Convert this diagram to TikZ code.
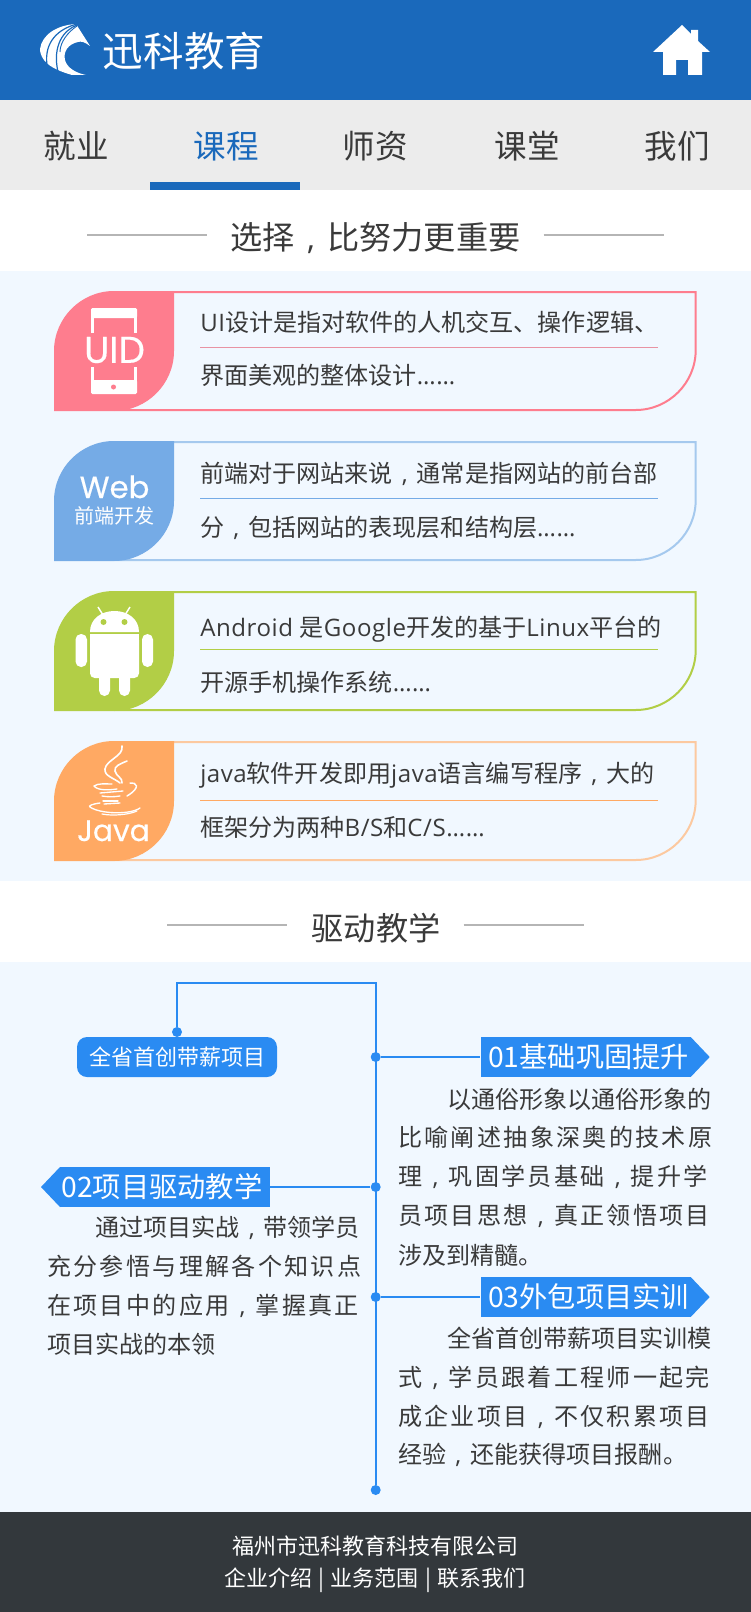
\documentclass[tikz,border=0pt]{standalone}
\usepackage{fontspec}
\setmainfont{Noto Sans CJK SC}
\newfontfamily\latfont[LetterSpace=2.3]{Open Sans}
\newfontfamily\popfont{Poppins}
\newfontfamily\popfake[FakeBold=0.4]{Poppins}
\newcommand\lat[1]{{\latfont #1}}
\newcommand\cm{\makebox[1em]{\latfont,}}
\newcommand\cms{\makebox[1.095em]{\latfont,}}
\newcommand\spc{\addfontfeature{LetterSpace=9.5}}
\definecolor{headblue}{HTML}{1A69BB}
\definecolor{navgrey}{HTML}{ECECEC}
\definecolor{panel}{HTML}{F1F8FF}
\definecolor{foot}{HTML}{33383C}
\definecolor{ink}{HTML}{3A3A3A}
\definecolor{rule}{HTML}{B5B5B5}
\definecolor{accent}{HTML}{2A8BF2}
\definecolor{pinkA}{HTML}{FE7D8E}\definecolor{pinkB}{HTML}{FE7D8E}\definecolor{pinkC}{HTML}{E893A3}
\definecolor{blueA}{HTML}{75ABE6}\definecolor{blueB}{HTML}{A5C9EE}\definecolor{blueC}{HTML}{75ABE6}
\definecolor{greenA}{HTML}{B2CE46}\definecolor{greenB}{HTML}{B2CE46}\definecolor{greenC}{HTML}{B2CE46}
\definecolor{orangeA}{HTML}{FFA963}\definecolor{orangeB}{HTML}{FCC9A0}\definecolor{orangeC}{HTML}{FFA963}
\tikzset{
  txt/.style={inner sep=0pt,anchor=base west,text=ink,font=\fontsize{18.05}{22}\selectfont},
  navtxt/.style={inner sep=0pt,anchor=base,text=ink,font=\fontsize{24.4}{28}\selectfont},
  titletxt/.style={inner sep=0pt,anchor=base,text=ink,font=\fontsize{24.15}{28}\selectfont},
  foottxt/.style={inner sep=0pt,anchor=base,text=white,font=\fontsize{16.5}{20}\selectfont},
  titlerule/.style={draw=rule,line width=1.5pt},
  dot/.style={circle,fill=accent,inner sep=0pt,minimum size=7.5pt},
  conn/.style={draw=accent,line width=1.5pt},
  tagbox/.style={fill=accent,inner sep=0pt,text=white,minimum width=157.5pt,minimum height=30pt,
     text height=18.5pt,text depth=2.5pt,font=\fontsize{21.2}{25}\selectfont},
  cardline/.style={line width=.75pt},
  cardedge/.style={line width=1.5pt},
}
\newcommand\card[4]{% top y, icon colour, border colour
  \draw[cardedge,#3] (174,#1+1) -- (695.7,#1+1) -- (695.7,#1+59) .. controls (695.7,#1+92) and (668.7,#1+119) .. (635.7,#1+119) -- (114,#1+119);
  \fill[#2] (54,#1+120) -- (54,#1+60) .. controls (54,#1+27) and (81,#1) .. (114,#1) -- (174,#1)
     -- (174,#1+60) .. controls (174,#1+93) and (147,#1+120) .. (114,#1+120) -- cycle;
}
\begin{document}
\begin{tikzpicture}[x=0.75pt,y=-0.75pt]
\useasboundingbox (0,0) rectangle (750.6,1612);
\fill[white] (0,0) rectangle (751,1612);
% header
\fill[headblue] (0,0) rectangle (751,100);
\fill[navgrey] (0,100) rectangle (751,190);
\fill[headblue] (150,182) rectangle (300,190);
\fill[panel] (0,271) rectangle (751,881);
\fill[panel] (0,962) rectangle (751,1512);
\fill[foot] (0,1512) rectangle (751,1612);
% logo
\fill[white] (76,24) -- (90,46) .. controls (85,42) and (81,41) .. (78,42)
  .. controls (68,44) and (63,52) .. (65,60) .. controls (67,68) and (76,73) .. (86,75)
  -- (72,75) .. controls (62,72) and (50,68) .. (44,60) .. controls (41,56) and (40,52) .. (40,49)
  .. controls (42,34) and (58,25) .. (76,24) -- cycle;
\draw[headblue,line width=.9pt] (77,24) .. controls (58,29) and (44,42) .. (47,65);
\draw[headblue,line width=.9pt] (77,25) .. controls (64,30) and (52,45) .. (58,72);
\draw[headblue,line width=.7pt] (77,26) .. controls (68,32) and (60,42) .. (60,52);
% home icon
\fill[white] (682,25) -- (691,34) -- (691,30) -- (698,30) -- (698,41) -- (710,52) -- (702,52) -- (702,75)
  -- (688,75) -- (688,60) -- (676,60) -- (676,75) -- (663,75) -- (663,52) -- (653,52) -- cycle;
\node[inner sep=0pt,anchor=base,text=white,font=\fontsize{30.4}{34}\selectfont] (brand) at (184,67) {迅科教育};
% nav
\node[navtxt] (n1) at (76.5,159) {就业};
\node[navtxt,text=headblue] (n2) at (226,159) {课程};
\node[navtxt] (n3) at (375,159) {师资};
\node[navtxt] (n4) at (527,159) {课堂};
\node[navtxt] (n5) at (677,159) {我们};
% title 1
\node[titletxt] (t1) at (375.5,249) {选择\cm 比努力更重要};
\draw[titlerule] (87,235) -- (207,235);
\draw[titlerule] (543.7,235) -- (663.7,235);
% cards
\card{291}{pinkA}{pinkB}{pinkC}
\card{441}{blueA}{blueB}{blueC}
\card{591}{greenA}{greenB}{greenC}
\card{741}{orangeA}{orangeB}{orangeC}
\draw[cardline,pinkC] (200,347.5) -- (657.7,347.5);
\draw[cardline,blueC] (200,498.5) -- (657.7,498.5);
\draw[cardline,greenC] (200,649.5) -- (657.7,649.5);
\draw[cardline,orangeC] (200,800.5) -- (657.7,800.5);
\node[txt] (c1a) at (200,331) {\lat{UI}设计是指对软件的人机交互、操作逻辑、};
\node[txt] (c1b) at (200,384) {界面美观的整体设计\lat{……}};
\node[txt] (c2a) at (200,482) {前端对于网站来说\cm 通常是指网站的前台部};
\node[txt] (c2b) at (200,536) {分\cm 包括网站的表现层和结构层\lat{……}};
\node[txt] (c3a) at (200,636) {\lat{Android }是\lat{Google}开发的基于\lat{Linux}平台的};
\node[txt] (c3b) at (200,691) {开源手机操作系统\lat{……}};
\node[txt] (c4a) at (200,782) {\lat{java}软件开发即用\lat{java}语言编写程序\cm 大的};
\node[txt] (c4b) at (200,836) {框架分为两种\lat{B/S}和\lat{C/S}\lat{……}};
% UID icon
\fill[white,rounded corners=1pt] (91,308) rectangle (137,318);
\fill[white] (91,314) rectangle (94,333);
\fill[white] (134,314) rectangle (137,333);
\fill[white] (91,367) rectangle (94,384);
\fill[white] (134,367) rectangle (137,384);
\fill[white,rounded corners=1pt] (91,380) rectangle (137,394);
\fill[pinkA] (113.5,387) circle[radius=2.5];
\node[inner sep=0pt,text=white,font=\popfake\fontsize{28}{30}\selectfont] (uid) at (114.5,350) {UID};
% Web icon
\node[inner sep=0pt,anchor=base,text=white,font=\popfake\fontsize{23}{26}\selectfont] (web) at (114.5,498) {Web};
\node[inner sep=0pt,anchor=base,text=white,font=\fontsize{15}{18}\selectfont] (webcn) at (114,523) {前端开发};
% Android icon
\draw[white,line width=1.1pt] (98,607) -- (103,615);
\draw[white,line width=1.1pt] (130,607) -- (125,615);
\fill[white] (90,632) .. controls (90,619) and (101,611) .. (114.5,611) .. controls (128,611) and (139,619) .. (139,632) -- cycle;
\fill[greenA] (103.5,622) circle[radius=3];
\fill[greenA] (124.5,622) circle[radius=3];
\fill[white,rounded corners=3.5pt] (90,640) -- (90,678) -- (139,678) -- (139,640);
\fill[white] (90,634) rectangle (139,650);
\fill[white,rounded corners=4.1pt] (75.5,634) rectangle (87,667);
\fill[white,rounded corners=4.1pt] (142,634) rectangle (153,667);
\fill[white,rounded corners=4.1pt] (99,665) rectangle (110,696);
\fill[white,rounded corners=4.1pt] (119,665) rectangle (130,696);
% Java icon
\draw[white,line width=1.2pt,line cap=round] (122,746) .. controls (124,756) and (106,760) .. (105,769) .. controls (104,776) and (114,778) .. (120,783);
\draw[white,line width=1.2pt,line cap=round] (127,761) .. controls (120,764) and (114,766) .. (115,771) .. controls (116,776) and (123,778) .. (122,783);
\draw[white,line width=1pt,line cap=round] (94,786) .. controls (98,783) and (106,784) .. (112,784);
\draw[white,line width=1pt,line cap=round] (94,786) .. controls (98,791) and (110,790) .. (117,789);
\draw[white,line width=1.1pt,line cap=round] (130,783) .. controls (136,782) and (142,787) .. (127,796);
\draw[white,line width=1pt,line cap=round] (100,793) -- (123,791);
\draw[white,line width=1pt,line cap=round] (102,796) .. controls (108,797) and (114,797) .. (120,796);
\draw[white,line width=1pt,line cap=round] (103,801) -- (118,801);
\draw[white,line width=1pt,line cap=round] (104,804) -- (120,803);
\draw[white,line width=1pt,line cap=round] (100,803) .. controls (92,804) and (88,806) .. (90,807) .. controls (100,814) and (130,815) .. (140,808);
\draw[white,line width=.9pt,line cap=round] (102,814) .. controls (112,816) and (128,815) .. (137,811);
\node[inner sep=0pt,anchor=base,text=white,font=\popfake\fontsize{22.3}{26}\selectfont] (java) at (113.5,841) {Java};
% title 2
\node[titletxt] (t2) at (376,940) {驱动教学};
\draw[titlerule] (167,925) -- (287,925);
\draw[titlerule] (463.7,925) -- (583.7,925);
% timeline
\node[dot] (dtop) at (177,1032) {};
\node[dot] (d1) at (375.7,1057) {};
\node[dot] (d2) at (375.7,1187) {};
\node[dot] (d3) at (375.7,1297) {};
\node[dot] (dend) at (375.7,1490) {};
\coordinate (ca) at (177,983);
\coordinate (cb) at (375.7,983);
\node[fill=accent,rounded corners=7.5pt,inner sep=0pt,text=white,minimum width=150pt,minimum height=30pt,
  text height=14.5pt,text depth=2pt,font=\fontsize{16.5}{20}\selectfont] (pill) at (177,1057) {全省首创带薪项目};
\draw[conn] (dtop) -- (ca) -- (cb) -- (dend);
\fill[accent] (690.7,1037) -- (709.7,1057) -- (690.7,1077) -- cycle;
\fill[accent] (60,1167) -- (41,1187) -- (60,1207) -- cycle;
\fill[accent] (690.7,1277) -- (709.7,1297) -- (690.7,1317) -- cycle;
\node[tagbox] (tag1) at (585.7,1057) {\hspace*{4.5pt}01基础巩固提升};
\node[tagbox] (tag2) at (165,1187) {02项目驱动教学\hspace*{4.5pt}};
\node[tagbox] (tag3) at (585.7,1297) {\hspace*{4.5pt}03外包项目实训};
\draw[conn] (d1) -- (tag1.west);
\draw[conn] (d2) -- (tag2.east);
\draw[conn] (d3) -- (tag3.west);
% right paragraph 1
\node[txt] (r1) at (447,1108) {以通俗形象以通俗形象的};
\node[txt] (r2) at (398,1146) {\spc 比喻阐述抽象深奥的技术原};
\node[txt] (r3) at (398,1185) {\spc 理\cms 巩固学员基础\cms 提升学};
\node[txt] (r4) at (398,1224) {\spc 员项目思想\cms 真正领悟项目};
\node[txt] (r5) at (398,1264) {涉及到精髓。};
% left paragraph
\node[txt] (l1) at (95,1236) {通过项目实战\cm 带领学员};
\node[txt] (l2) at (47,1275) {\spc 充分参悟与理解各个知识点};
\node[txt] (l3) at (47,1314) {\spc 在项目中的应用\cms 掌握真正};
\node[txt] (l4) at (47,1353) {项目实战的本领};
% right paragraph 2
\node[txt] (s1) at (447,1347) {全省首创带薪项目实训模};
\node[txt] (s2) at (398,1386) {\spc 式\cms 学员跟着工程师一起完};
\node[txt] (s3) at (398,1425) {\spc 成企业项目\cms 不仅积累项目};
\node[txt] (s4) at (398,1463) {经验\cm 还能获得项目报酬。};
% footer
\node[foottxt] (f1) at (375,1554) {福州市迅科教育科技有限公司};
\node[foottxt] (f2) at (375,1586) {企业介绍\hspace{1.2pt} | \hspace{1.2pt}业务范围\hspace{1.2pt} | \hspace{1.2pt}联系我们};
\end{tikzpicture}
\end{document}
